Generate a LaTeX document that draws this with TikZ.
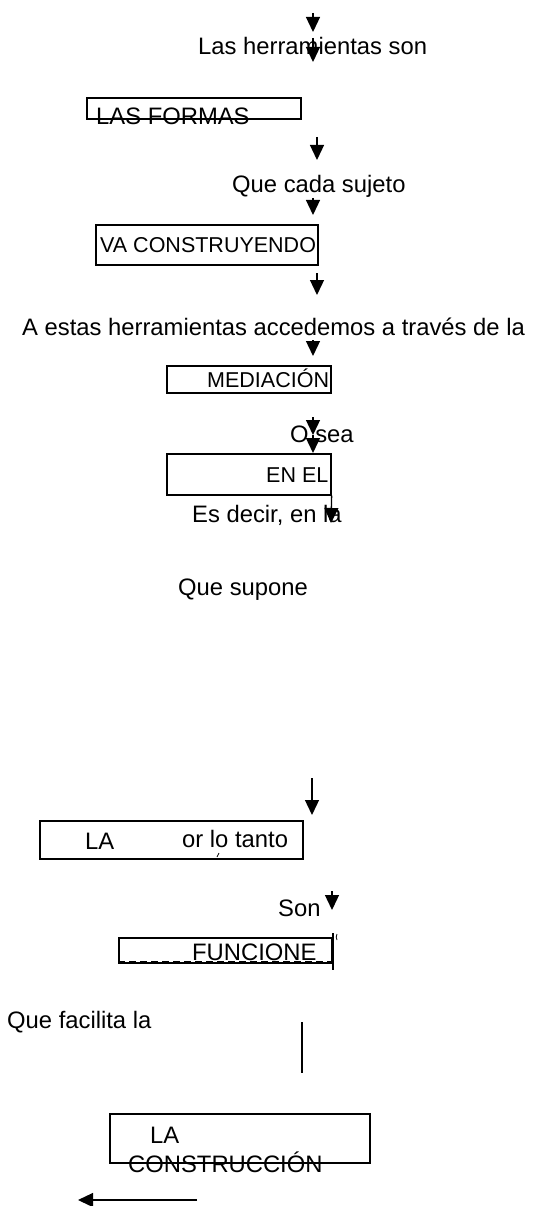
\documentclass[tikz,border=0pt]{standalone}
\usepackage{fontspec}
\setmainfont{Liberation Sans}
\usetikzlibrary{arrows.meta}
\begin{document}
\begin{tikzpicture}[x=1pt,y=-1pt,
  txt/.style={anchor=base west,inner sep=0pt,font=\fontsize{23.8}{26}\selectfont},
  txts/.style={txt,font=\fontsize{21.5}{24}\selectfont},
  boxr/.style={draw,line width=1.3pt,inner sep=0pt},
  arr/.style={line width=1.3pt,-{Triangle[width=14pt,length=15pt]}},
  ln/.style={line width=1.3pt}]
\useasboundingbox (0,0) rectangle (540,1206);
% boxes
\node[boxr,minimum width=214pt,minimum height=21pt] (bformas) at (194,108.5) {};
\node[boxr,minimum width=222pt,minimum height=40pt] (bva) at (207,245) {};
\node[boxr,minimum width=164pt,minimum height=27pt] (bmed) at (249,379.5) {};
\node[boxr,minimum width=164pt,minimum height=41pt] (benel) at (249,474.5) {};
\node[boxr,minimum width=263pt,minimum height=38pt] (bla) at (171.5,840) {};
\node[boxr,minimum width=213pt,minimum height=25pt] (bfun) at (225.5,950.5) {};
\node[boxr,minimum width=260pt,minimum height=49pt] (bcons) at (240,1138.5) {};
% texts
\node[txt] (t1) at (198,55) {Las herramientas son};
\node[txt] (t2) at (96,125) {LAS FORMAS};
\node[txt] (t3) at (232,193) {Que cada sujeto};
\node[txts] (t4) at (100,252) {VA CONSTRUYENDO};
\node[txt] (t5) at (22,335) {A estas herramientas accedemos a través de la};
\node[txts] (t6) at (207,387) {MEDIACIÓN};
\node[txt] (t7) at (290,442) {O sea};
\node[txts] (t8) at (266,482) {EN EL};
\node[txt] (t9) at (192,522) {Es decir, en la};
\node[txt] (t10) at (178,595) {Que supone};
\node[txt] (t11) at (85,849) {LA};
\node[txt] (t12) at (182,847) {or lo tanto};
\node[txt] (t13) at (278,916) {Son};
\node[txt] (t14) at (192,960) {FUNCIONE};
\node[txt] (t15) at (7,1028) {Que facilita la};
\node[txt] (t16) at (150,1143) {LA};
\node[txt] (t17) at (128,1172) {CONSTRUCCIÓN};
% coordinates for connectors
\coordinate (a1s) at (313,13);  \coordinate (a1e) at (313,32);
\coordinate (a2s) at (313,38);  \coordinate (a2e) at (313,62);
\coordinate (a3s) at (317,137); \coordinate (a3e) at (317,160);
\coordinate (a4s) at (313,198); \coordinate (a4e) at (313,215);
\coordinate (a5s) at (317,273); \coordinate (a5e) at (317,295);
\coordinate (a6s) at (313,340); \coordinate (a6e) at (313,356);
\coordinate (a7s) at (313,417); \coordinate (a7e) at (313,435);
\coordinate (a7f) at (313,453);
\coordinate (a8e) at (331,523);
\coordinate (a9s) at (312,778); \coordinate (a9e) at (312,815);
\coordinate (a10s) at (332,891); \coordinate (a10e) at (332,910);
\coordinate (l1s) at (333,933); \coordinate (l1e) at (333,970);
\coordinate (l2s) at (302,1022); \coordinate (l2e) at (302,1073);
\coordinate (a11s) at (197,1200); \coordinate (a11e) at (78,1200);
% connectors
\draw[arr] (a1s) -- (a1e);
\draw[arr] (a2s) -- (a2e);
\draw[arr] (a3s) -- (a3e);
\draw[arr] (a4s) -- (a4e);
\draw[arr] (a5s) -- (a5e);
\draw[arr] (a6s) -- (a6e);
\draw[arr] (a7s) -- (a7e);
\draw[arr] (a7e) -- (a7f);
\draw[arr] (benel.south east) -- (a8e);
\draw[arr] (a9s) -- (a9e);
\draw[arr] (a10s) -- (a10e);
\draw[ln] (l1s) -- (l1e);
\draw[ln] (l2s) -- (l2e);
\draw[arr] (a11s) -- (a11e);
% fragments
\draw[line width=1pt,dash pattern=on 7pt off 4pt] ([yshift=2.5pt]bfun.south west) -- ([yshift=2.5pt]bfun.south east);
\draw[line width=0.8pt] (217,857) -- (219,853);
\draw[line width=0.8pt] (337,940) arc (150:210:6);
\end{tikzpicture}
\end{document}
